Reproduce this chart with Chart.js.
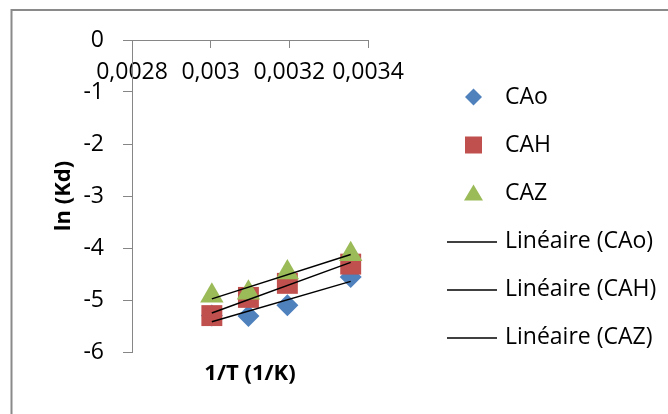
<!DOCTYPE html>
<html>
<head>
<meta charset="utf-8">
<script src="https://cdn.jsdelivr.net/npm/chart.js@4/dist/chart.umd.min.js"></script>
<style>
  html, body { margin: 0; padding: 0; background: #fff; }
  #wrap { width: 668px; height: 414px; position: relative; }
</style>
</head>
<body>
<div id="wrap"><canvas id="c" width="668" height="414"></canvas></div>
<script>
// 1/T values (1/K) for 333, 323, 313 and 298 K
const invT = [0.003003, 0.003096, 0.003195, 0.003356];
// ln(Kd) for each adsorbent
const lnKdCAo = [-5.30, -5.31, -5.10, -4.56];
const lnKdCAH = [-5.30, -4.95, -4.68, -4.31];
const lnKdCAZ = [-4.92, -4.86, -4.47, -4.12];
const seriesNames = ['CAo', 'CAH', 'CAZ'];
const trendNames = ['Linéaire (CAo)', 'Linéaire (CAH)', 'Linéaire (CAZ)'];
const xTickValues = [0.0028, 0.003, 0.0032, 0.0034];
const xTickLabels = ['0,0028', '0,003', '0,0032', '0,0034'];
const yTickValues = [0, -1, -2, -3, -4, -5, -6];
const yTickLabels = ['0', '-1', '-2', '-3', '-4', '-5', '-6'];

const FONT = "'Open Sans', 'DejaVu Sans', sans-serif";
const TEXT = '#000000';
const AXIS = '#868686';
const COLORS = ['#4F81BD', '#C0504D', '#9BBB59'];

function points(ys) {
  return invT.map((x, i) => ({ x: x, y: ys[i] }));
}

// least-squares line, spanning the measured 1/T range
function fitLine(xs, ys) {
  const n = xs.length;
  const mx = xs.reduce((a, b) => a + b, 0) / n;
  const my = ys.reduce((a, b) => a + b, 0) / n;
  let sxy = 0, sxx = 0;
  for (let i = 0; i < n; i++) {
    sxy += (xs[i] - mx) * (ys[i] - my);
    sxx += (xs[i] - mx) * (xs[i] - mx);
  }
  const slope = sxy / sxx;
  const icpt = my - slope * mx;
  const x0 = Math.min.apply(null, xs), x1 = Math.max.apply(null, xs);
  return [{ x: x0, y: icpt + slope * x0 }, { x: x1, y: icpt + slope * x1 }];
}

function trend(label, ys) {
  return {
    label: label, data: fitLine(invT, ys), showLine: true,
    borderColor: '#000', borderWidth: 1.5, pointRadius: 0, order: 0
  };
}

// white background and the chart frame
const framePlugin = {
  id: 'frame',
  beforeDraw(chart) {
    const ctx = chart.ctx;
    ctx.save();
    ctx.fillStyle = '#fff';
    ctx.fillRect(0, 0, chart.width, chart.height);
    ctx.strokeStyle = '#8a8a8a';
    ctx.lineWidth = 2;
    ctx.beginPath();
    ctx.moveTo(11.5, chart.height);
    ctx.lineTo(11.5, 10);
    ctx.lineTo(chart.width, 10);
    ctx.stroke();
    ctx.restore();
  }
};

// legend column at the right: three markers, then three trend lines
const legendPlugin = {
  id: 'sideLegend',
  afterDraw(chart) {
    const ctx = chart.ctx;
    const mx = 473.5, tx = 505, y0 = 97, pitch = 48;
    ctx.save();
    ctx.font = '23px ' + FONT;
    ctx.textBaseline = 'middle';
    ctx.textAlign = 'left';
    const labels = seriesNames.concat(trendNames);
    labels.forEach((lab, i) => {
      const y = y0 + i * pitch;
      ctx.fillStyle = TEXT;
      ctx.fillText(lab, tx, y);
      if (i === 0) {
        ctx.fillStyle = COLORS[0];
        ctx.beginPath();
        ctx.moveTo(mx - 8.5, y); ctx.lineTo(mx, y - 8.5);
        ctx.lineTo(mx + 8.5, y); ctx.lineTo(mx, y + 8.5);
        ctx.closePath(); ctx.fill();
      } else if (i === 1) {
        ctx.fillStyle = COLORS[1];
        ctx.fillRect(mx - 8.5, y - 8.5, 17, 17);
      } else if (i === 2) {
        ctx.fillStyle = COLORS[2];
        ctx.beginPath();
        ctx.moveTo(mx, y - 8.5); ctx.lineTo(mx + 9.5, y + 7.5);
        ctx.lineTo(mx - 9.5, y + 7.5);
        ctx.closePath(); ctx.fill();
      } else {
        ctx.strokeStyle = '#000';
        ctx.lineWidth = 1.5;
        ctx.beginPath();
        ctx.moveTo(447, y + 1); ctx.lineTo(497, y + 1);
        ctx.stroke();
      }
    });
    ctx.restore();
  }
};

new Chart(document.getElementById('c'), {
  type: 'scatter',
  data: {
    datasets: [
      trend(trendNames[0], lnKdCAo),
      trend(trendNames[1], lnKdCAH),
      trend(trendNames[2], lnKdCAZ),
      {
        label: seriesNames[2], data: points(lnKdCAZ), pointStyle: 'triangle',
        pointRadius: 13.5, backgroundColor: COLORS[2], borderColor: COLORS[2],
        borderWidth: 0, order: 1
      },
      {
        label: seriesNames[1], data: points(lnKdCAH), pointStyle: 'rect',
        pointRadius: 14.8, backgroundColor: COLORS[1], borderColor: COLORS[1],
        borderWidth: 0, order: 2
      },
      {
        label: seriesNames[0], data: points(lnKdCAo), pointStyle: 'rectRot',
        pointRadius: 11, backgroundColor: COLORS[0], borderColor: COLORS[0],
        borderWidth: 0, order: 3
      }
    ]
  },
  options: {
    responsive: false,
    animation: false,
    devicePixelRatio: 1,
    clip: false,
    layout: { padding: { left: 12, top: 40, right: 300, bottom: 0 } },
    plugins: { legend: { display: false }, tooltip: { enabled: false } },
    scales: {
      x: {
        type: 'linear',
        position: { y: 0 },
        min: 0.0028, max: 0.0034,
        afterBuildTicks: s => { s.ticks = xTickValues.map(v => ({ value: v })); },
        ticks: {
          callback: (v, i) => xTickLabels[i],
          font: { family: FONT, size: 23 }, color: TEXT,
          padding: 12, maxRotation: 0, autoSkip: false
        },
        grid: { display: true, drawOnChartArea: false, drawTicks: true, tickLength: 7, color: AXIS, lineWidth: 1 },
        border: { display: true, color: AXIS, width: 1 }
      },
      x2: {
        type: 'linear',
        position: 'bottom',
        display: true,
        ticks: { display: false },
        grid: { display: false, drawTicks: false },
        border: { display: false },
        title: {
          display: true, text: '1/T (1/K)', color: TEXT,
          font: { family: FONT, size: 22, weight: 'bold' },
          padding: { top: 0, bottom: 27 }
        },
        afterFit: s => { s.height = 62; }
      },
      y: {
        type: 'linear',
        position: 'left',
        min: -6, max: 0,
        afterBuildTicks: s => { s.ticks = yTickValues.map(v => ({ value: v })); },
        ticks: {
          callback: (v, i) => yTickLabels[i],
          font: { family: FONT, size: 23 }, color: TEXT, padding: 19
        },
        grid: { display: true, drawOnChartArea: false, drawTicks: true, tickLength: 9, color: AXIS, lineWidth: 1 },
        border: { display: true, color: AXIS, width: 1 },
        title: {
          display: true, text: 'ln (Kd)', color: TEXT,
          font: { family: FONT, size: 22, weight: 'bold' },
          padding: { top: 39, bottom: 0 }
        },
        afterFit: s => { s.width = 120; }
      }
    }
  },
  plugins: [framePlugin, legendPlugin]
});
</script>
</body>
</html>
